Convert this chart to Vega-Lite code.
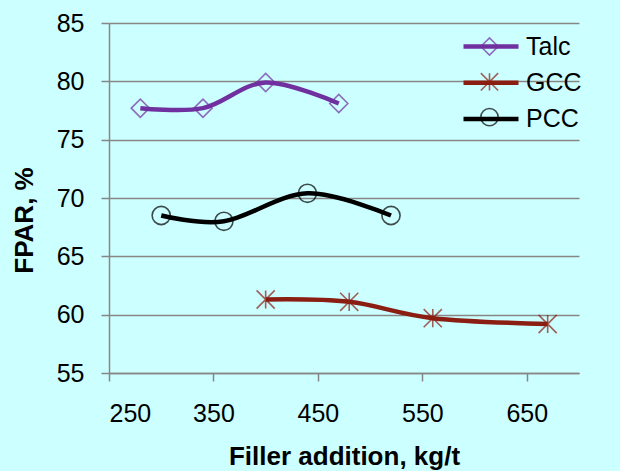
{
  "$schema": "https://vega.github.io/schema/vega-lite/v6.json",
  "width": 470,
  "height": 350,
  "padding": {"left": 109, "top": 23, "right": 41, "bottom": 98},
  "autosize": {"type": "none"},
  "background": "#CCFFFF",
  "config": {
    "view": {"stroke": null},
    "font": "Liberation Sans",
    "axis": {
      "labelFont": "Liberation Sans",
      "titleFont": "Liberation Sans",
      "labelColor": "#000000",
      "titleColor": "#000000",
      "domainColor": "#868686",
      "tickColor": "#868686",
      "gridColor": "#868686",
      "domainWidth": 1.5,
      "tickWidth": 1.5,
      "gridWidth": 1.5,
      "tickSize": 8,
      "labelFontSize": 25,
      "titleFontSize": 26,
      "titleFontWeight": "bold"
    },
    "legend": {"labelFont": "Liberation Sans", "padding": 0}
  },
  "data": {
    "values": [
      {"series": "Talc", "x": 280, "y": 77.7},
      {"series": "Talc", "x": 340, "y": 77.7},
      {"series": "Talc", "x": 400, "y": 79.9},
      {"series": "Talc", "x": 470, "y": 78.1},
      {"series": "GCC", "x": 400, "y": 61.3},
      {"series": "GCC", "x": 480, "y": 61.1},
      {"series": "GCC", "x": 560, "y": 59.7},
      {"series": "GCC", "x": 670, "y": 59.2},
      {"series": "PCC", "x": 300, "y": 68.5},
      {"series": "PCC", "x": 360, "y": 68.0},
      {"series": "PCC", "x": 440, "y": 70.4},
      {"series": "PCC", "x": 520, "y": 68.5}
    ]
  },
  "encoding": {
    "x": {
      "field": "x", "type": "quantitative",
      "scale": {"domain": [250, 700], "nice": false, "zero": false},
      "axis": {
        "values": [250, 350, 450, 550, 650],
        "grid": false,
        "labelPadding": 20,
        "title": "Filler addition, kg/t",
        "titleBaseline": "alphabetic",
        "titleY": 91
      }
    },
    "y": {
      "field": "y", "type": "quantitative",
      "scale": {"domain": [55, 85], "nice": false, "zero": false},
      "axis": {
        "values": [55, 60, 65, 70, 75, 80, 85],
        "grid": true,
        "labelPadding": 17,
        "title": "FPAR, %",
        "titleAngle": -90,
        "titleBaseline": "alphabetic",
        "titleAlign": "center",
        "titleX": -77,
        "titleY": 197
      }
    }
  },
  "layer": [
    {
      "mark": {"type": "line", "interpolate": "cardinal", "strokeWidth": 4.5},
      "encoding": {
        "color": {
          "field": "series", "type": "nominal",
          "scale": {"domain": ["Talc", "GCC", "PCC"], "range": ["#7030A0", "#8B1E12", "#000000"]},
          "legend": {
            "title": null,
            "orient": "none",
            "legendX": 352,
            "legendY": 11,
            "symbolType": "stroke",
            "symbolSize": 3025,
            "symbolStrokeWidth": 4.5,
            "labelFontSize": 25,
            "labelOffset": 5,
            "clipHeight": 25,
            "rowPadding": 10.3
          }
        }
      }
    },
    {
      "mark": {"type": "point", "filled": false, "size": 330, "strokeWidth": 1.6},
      "encoding": {
        "color": {
          "field": "series", "type": "nominal",
          "scale": {"domain": ["Talc", "GCC", "PCC"], "range": ["#7030A0", "#8B1E12", "#000000"]},
          "legend": {
            "title": null,
            "orient": "none",
            "legendX": 371,
            "legendY": 11,
            "symbolSize": 300,
            "symbolStrokeWidth": 1.6,
            "labelExpr": "''",
            "labelFontSize": 1,
            "clipHeight": 25,
            "rowPadding": 10.3
          }
        },
        "shape": {
          "field": "series", "type": "nominal",
          "scale": {"domain": ["Talc", "GCC", "PCC"], "range": ["diamond", "M0,-1L0,1M-1,-1L1,1M-1,1L1,-1", "circle"]},
          "legend": {
            "title": null,
            "orient": "none",
            "legendX": 371,
            "legendY": 11,
            "symbolSize": 300,
            "symbolStrokeWidth": 1.6,
            "labelExpr": "''",
            "labelFontSize": 1,
            "clipHeight": 25,
            "rowPadding": 10.3
          }
        }
      }
    }
  ],
  "resolve": {"legend": {"color": "independent", "shape": "independent"}}
}
